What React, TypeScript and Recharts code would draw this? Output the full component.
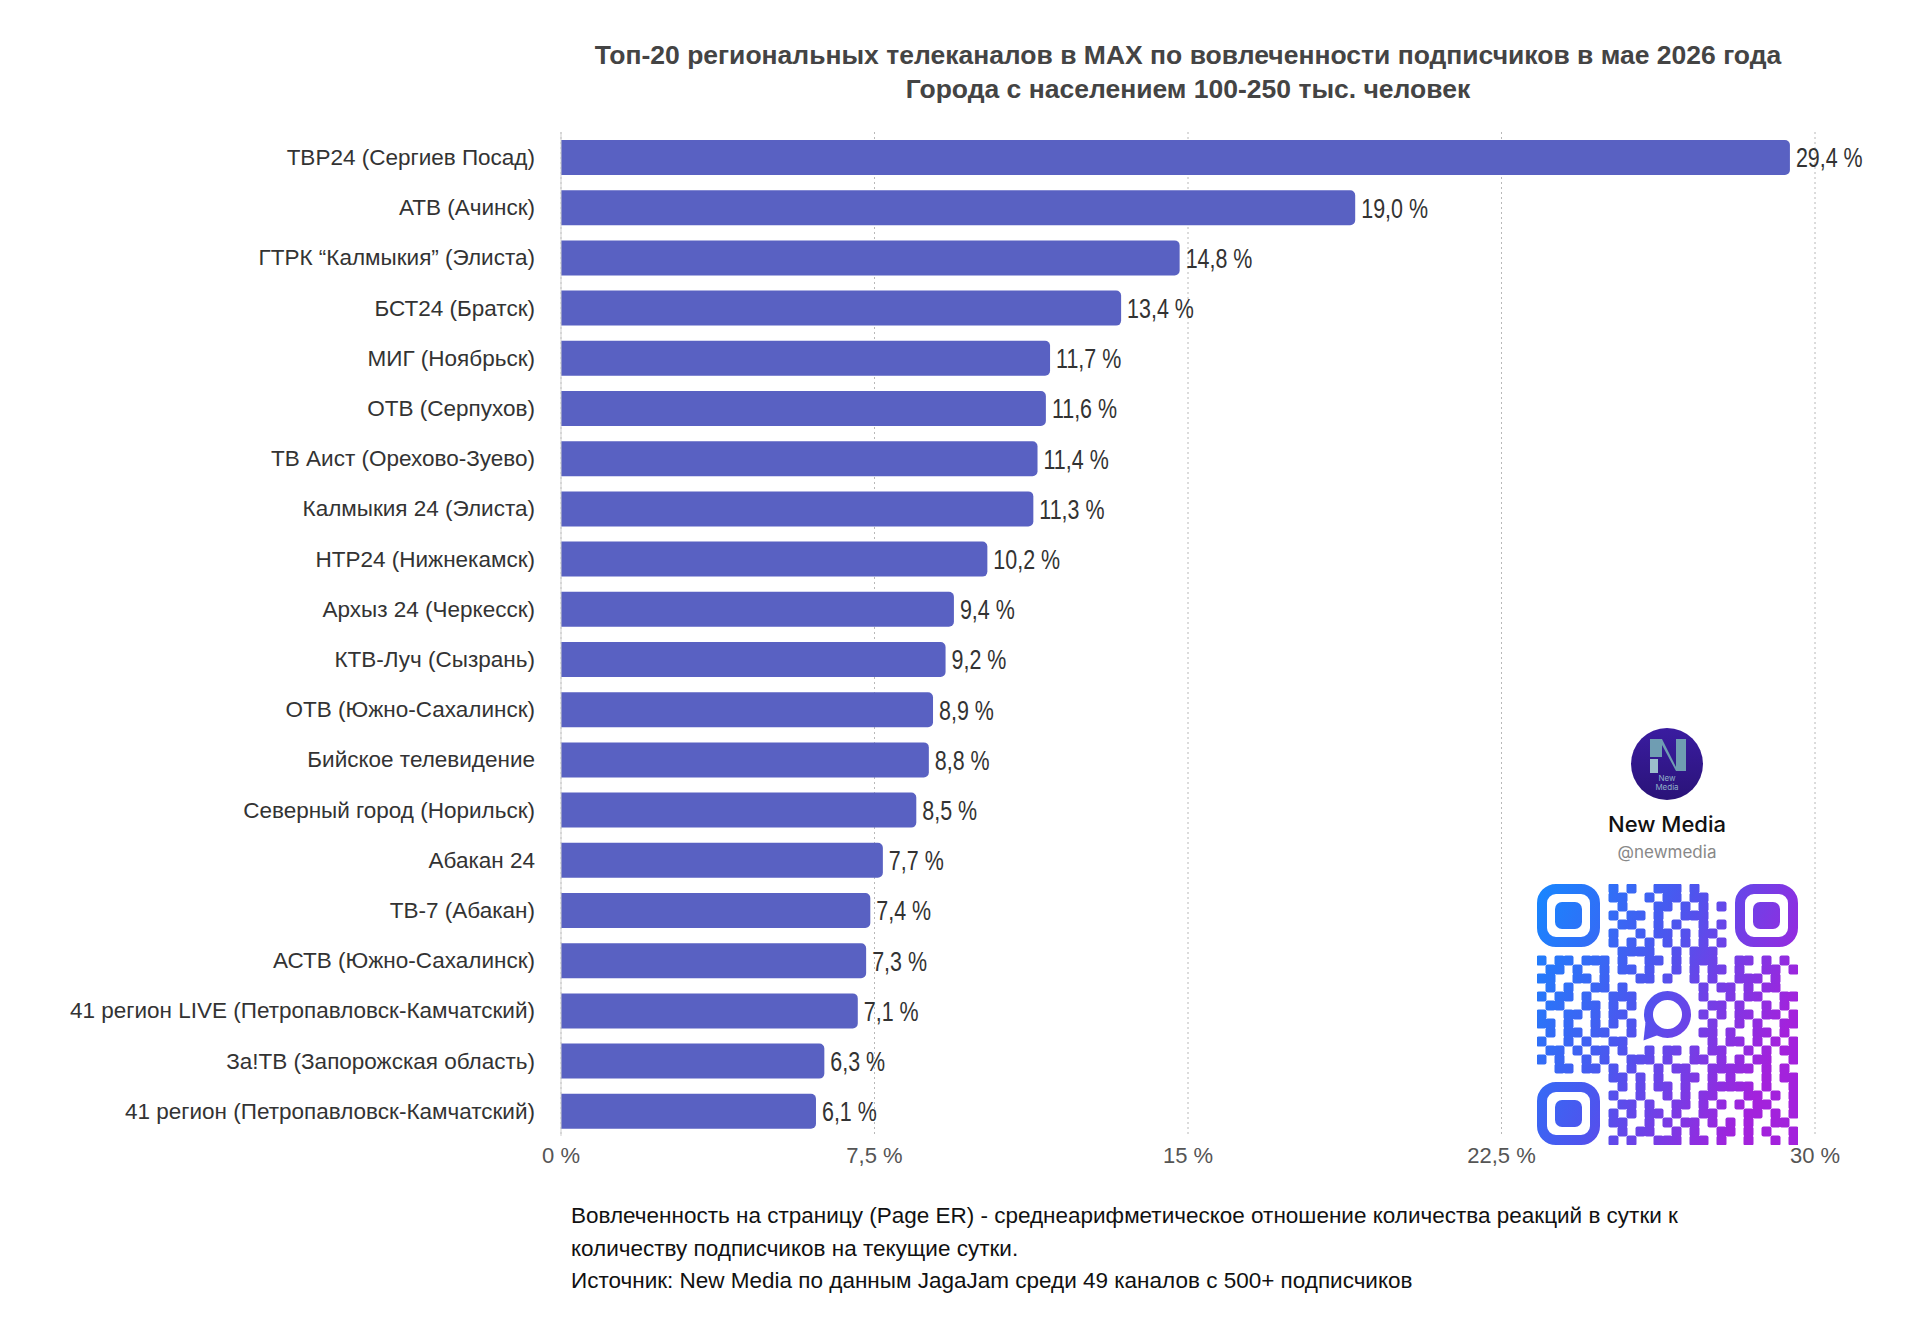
import React from 'react';
import { BarChart, Bar, XAxis, YAxis, CartesianGrid, LabelList } from 'recharts';

// Channels in display order (top to bottom)
const channels = [
  'ТВР24 (Сергиев Посад)',
  'АТВ (Ачинск)',
  'ГТРК “Калмыкия” (Элиста)',
  'БСТ24 (Братск)',
  'МИГ (Ноябрьск)',
  'ОТВ (Серпухов)',
  'ТВ Аист (Орехово-Зуево)',
  'Калмыкия 24 (Элиста)',
  'НТР24 (Нижнекамск)',
  'Архыз 24 (Черкесск)',
  'КТВ-Луч (Сызрань)',
  'ОТВ (Южно-Сахалинск)',
  'Бийское телевидение',
  'Северный город (Норильск)',
  'Абакан 24',
  'ТВ-7 (Абакан)',
  'АСТВ (Южно-Сахалинск)',
  '41 регион LIVE (Петропавловск-Камчатский)',
  'За!ТВ (Запорожская область)',
  '41 регион (Петропавловск-Камчатский)',
];

// Page ER, %
const engagement = [29.4, 19.0, 14.8, 13.4, 11.7, 11.6, 11.4, 11.3, 10.2, 9.4, 9.2, 8.9, 8.8, 8.5, 7.7, 7.4, 7.3, 7.1, 6.3, 6.1];

const xTicks = [0, 7.5, 15, 22.5, 30];

const titleLines = [
  'Топ-20 региональных телеканалов в MAX по вовлеченности подписчиков в мае 2026 года',
  'Города с населением 100-250 тыс. человек',
];

const noteLines = [
  'Вовлеченность на страницу (Page ER) - среднеарифметическое отношение количества реакций в сутки к',
  'количеству подписчиков на текущие сутки.',
  'Источник: New Media по данным JagaJam среди 49 каналов с 500+ подписчиков',
];

// QR-like pattern next to the channel logo (finder squares drawn separately)
const qrRows = [
  '........#.#..###.#...........',
  '........##..#.##.##..........',
  '.........#...##.#.#.#........',
  '........#.##.#..###..........',
  '.........##..#.#..#.#........',
  '........#..#.##.#.##.........',
  '........#.#.#.#.#.#.#........',
  '.........####..#.###.........',
  '#.##.###.#..##.#.###..##.#.#.',
  '.##.#..#.##.#..#.#.##.#..##.#',
  '##..##.#...##.#..#.#..###.#..',
  '.#.#..##.#........#.##.#.##.',
  '#.##.#..###.......#..#.##..##',
  '.##..##.#.#........##.#..#.#.',
  '#..##.#.##........#.#.##.##.#',
  '##.#..#.#.#........#..#.#..##',
  '.#.##.##..#.......##.#..##.#.',
  '#..#.#..##.........#.##.#.#.#',
  '.##.#.##.#..#.##.#.##..#.#.##',
  '#.#..#.#..###.#..##.#.#.##..#',
  '..##.##.#.#..#.##..#####.#.#.',
  '........##.#.#..##.#.#...#.##',
  '.........#.#.##.#..#####.#..#',
  '........#..#..#.#.##...##.#.#',
  '.........##.#..##.#.#.#.##..#',
  '........#.#.##.#..##...##.#.#',
  '........##..#.#.##.#.#.#..##.',
  '.........#.##..#.#..##.#.#..#',
  '........#.#..###.##.#..#..#.#',
];

const fmt = (v: number) => `${v.toFixed(1).replace('.', ',')} %`;
const tickFmt = (v: number) => `${String(v).replace('.', ',')} %`;

// condensed value label drawn at the end of each bar
const ValueLabel = (props: any) => {
  const { x, y, width, height, value } = props;
  const lx = x + width + 6;
  const ly = y + height / 2;
  return (
    <text
      x={0}
      y={0}
      transform={`translate(${lx},${ly}) scale(0.78,1)`}
      dy="0.36em"
      fill="#333"
      fontSize={27.5}
      fontFamily='"Liberation Sans", Arial, sans-serif'
    >
      {fmt(value)}
    </text>
  );
};

const QrCode = () => {
  const cell = 9;
  const size = cell * 29;
  const finder = (x: number, y: number, key: string) => (
    <g key={key}>
      <rect x={x + 5} y={y + 5} width={cell * 7 - 10} height={cell * 7 - 10} rx={14} fill="none" stroke="url(#qrGrad)" strokeWidth={10} />
      <rect x={x + cell * 2} y={y + cell * 2} width={cell * 3} height={cell * 3} rx={7} fill="url(#qrGrad)" />
    </g>
  );
  return (
    <svg width={size} height={size} style={{ position: 'absolute', left: 1537, top: 884 }}>
      <defs>
        <linearGradient id="qrGrad" x1="0" y1="0" x2={size} y2={size * 0.45} gradientUnits="userSpaceOnUse">
          <stop offset="0%" stopColor="#1687ff" />
          <stop offset="50%" stopColor="#4d55ee" />
          <stop offset="100%" stopColor="#a322dc" />
        </linearGradient>
      </defs>
      {qrRows.map((row, r) =>
        row.split('').map((c, i) =>
          c === '#' ? (
            <rect key={`${r}-${i}`} x={i * cell - 0.5} y={r * cell - 0.5} width={cell + 1} height={cell + 1} rx={2} fill="url(#qrGrad)" />
          ) : null
        )
      )}
      {finder(0, 0, 'tl')}
      {finder(size - cell * 7, 0, 'tr')}
      {finder(0, size - cell * 7, 'bl')}
      <circle cx={size / 2} cy={size / 2} r={19} fill="none" stroke="url(#qrGrad)" strokeWidth={9} />
      <path d={`M${size / 2 - 22} ${size / 2 + 8} L${size / 2 - 24} ${size / 2 + 26} L${size / 2 - 8} ${size / 2 + 20} Z`} fill="url(#qrGrad)" />
    </svg>
  );
};

const Logo = () => (
  <svg width={74} height={74} style={{ position: 'absolute', left: 1630, top: 727 }}>
    <defs>
      <linearGradient id="logoGrad" x1="0" y1="0" x2="0" y2="1">
        <stop offset="0%" stopColor="#3a1ca0" />
        <stop offset="100%" stopColor="#2a1378" />
      </linearGradient>
    </defs>
    <circle cx={37} cy={37} r={36} fill="url(#logoGrad)" />
    <path d="M20 12 L32 12 L46 40 L46 12 L56 12 L56 44 L46 44 L32 18 L32 30 L20 30 Z" fill="#6f9db2" />
    <rect x={20} y={32} width={8} height={14} fill="#9bbfcc" />
    <text x={37} y={54} textAnchor="middle" fontSize={8} fill="#8fb0c8" fontFamily="Inter, sans-serif">New</text>
    <text x={37} y={63} textAnchor="middle" fontSize={8} fill="#8fb0c8" fontFamily="Inter, sans-serif">Media</text>
  </svg>
);

export default function App() {
  const data = channels.map((name, i) => ({ name, value: engagement[i] }));

  return (
    <div style={{ position: 'absolute', left: 0, top: 0, width: 1920, height: 1334, background: '#fff', fontFamily: '"Liberation Sans", Arial, sans-serif' }}>
      <div style={{ position: 'absolute', left: 1188, top: 38, transform: 'translateX(-50%)', textAlign: 'center', whiteSpace: 'nowrap', fontSize: 26.5, fontWeight: 'bold', lineHeight: '34px', color: '#444' }}>
        {titleLines.map((t) => (
          <div key={t}>{t}</div>
        ))}
      </div>

      <div style={{ position: 'absolute', left: 0, top: 0 }}>
        <BarChart width={1920} height={1334} data={data} layout="vertical" margin={{ top: 132, right: 105, bottom: 168, left: 0 }} barCategoryGap={15}>
          <CartesianGrid horizontal={false} stroke="#b8b8b8" strokeDasharray="2 3" />
          <XAxis
            type="number"
            domain={[0, 30]}
            ticks={xTicks}
            tickFormatter={tickFmt}
            axisLine={false}
            tickLine={false}
            tickSize={0}
            tickMargin={11}
            height={30}
            tick={{ fill: '#555', fontSize: 22, fontFamily: '"Liberation Sans", Arial, sans-serif' }}
          />
          <YAxis
            type="category"
            dataKey="name"
            width={561}
            interval={0}
            axisLine={{ stroke: '#cfcfcf' }}
            tickLine={false}
            tickSize={0}
            tickMargin={26}
            tick={{ fill: '#333', fontSize: 22.5, fontFamily: '"Liberation Sans", Arial, sans-serif' }}
          />
          <Bar dataKey="value" fill="#5961c2" barSize={35} radius={[0, 5, 5, 0]} isAnimationActive={false}>
            <LabelList dataKey="value" content={<ValueLabel />} />
          </Bar>
        </BarChart>
      </div>

      <Logo />
      <div style={{ position: 'absolute', left: 1667, top: 810, transform: 'translateX(-50%)', whiteSpace: 'nowrap', fontFamily: 'Inter, sans-serif', fontSize: 22, fontWeight: 500, color: '#111', lineHeight: '28px' }}>
        New Media
      </div>
      <div style={{ position: 'absolute', left: 1667, top: 841, transform: 'translateX(-50%)', whiteSpace: 'nowrap', fontFamily: 'Inter, sans-serif', fontSize: 17, color: '#888', lineHeight: '22px' }}>
        @newmedia
      </div>
      <QrCode />

      <div style={{ position: 'absolute', left: 571, top: 1200, fontSize: 22.5, lineHeight: '32.5px', color: '#111', whiteSpace: 'nowrap' }}>
        {noteLines.map((t) => (
          <div key={t}>{t}</div>
        ))}
      </div>
    </div>
  );
}
